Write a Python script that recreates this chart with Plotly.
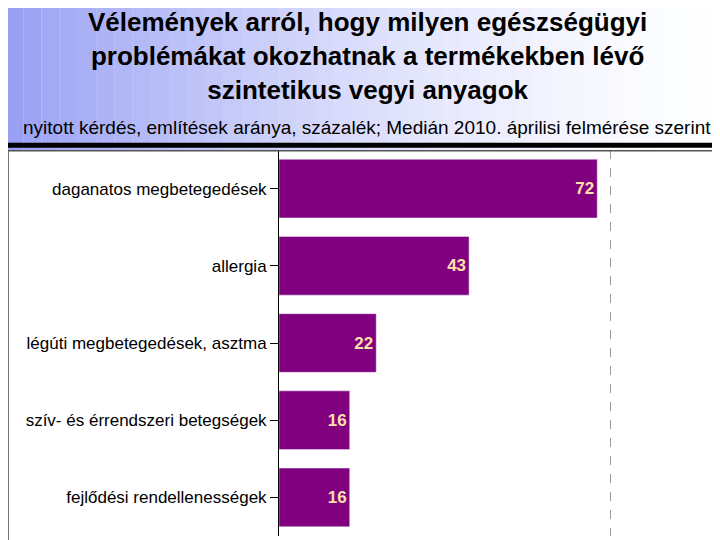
import plotly.graph_objects as go

categories = ["daganatos megbetegedések", "allergia", "légúti megbetegedések, asztma",
              "szív- és érrendszeri betegségek", "fejlődési rendellenességek"]
values = [72, 43, 22, 16, 16]

fig = go.Figure(go.Bar(
    x=values, y=categories, orientation="h",
    marker=dict(color="#800080"), width=0.76,
    text=values, textposition="inside", insidetextanchor="end",
    textfont=dict(color="#FFE0A8", size=17, family="Liberation Sans"),
    texttemplate="<b>%{text}</b>",
))

# left-to-right lavender fade in the header area
shapes = []
n = 40
for i in range(n):
    shapes.append(dict(type="rect", xref="paper", yref="paper",
                       x0=-0.62 + i * 1.65 / n, x1=-0.62 + (i + 1) * 1.65 / n,
                       y0=1.0, y1=1.4, line=dict(width=0), layer="below",
                       fillcolor="rgba(120,130,240,%.3f)" % (0.75 * (1 - i / n) ** 1.6)))
shapes.append(dict(type="line", xref="paper", yref="paper", x0=-0.62, x1=1.03,
                   y0=1.012, y1=1.012, line=dict(color="black", width=5)))
shapes.append(dict(type="rect", xref="paper", yref="paper", x0=-0.613, x1=1.0,
                   y0=-0.015, y1=0.998, line=dict(color="#555", width=1.5)))
shapes.append(dict(type="line", xref="paper", yref="paper", x0=1.014, x1=1.014,
                   y0=-0.03, y1=1.012, line=dict(color="black", width=4)))

fig.update_layout(
    width=720, height=540, paper_bgcolor="white", plot_bgcolor="white",
    margin=dict(l=271, r=7, t=142, b=12),
    showlegend=False, shapes=shapes,
    font=dict(family="Liberation Sans", color="black"),
    xaxis=dict(range=[0, 100], tickvals=[75], showticklabels=False, showgrid=True,
               gridcolor="#999", griddash="dash", gridwidth=1, zeroline=False),
    yaxis=dict(autorange="reversed", tickfont=dict(size=17), ticks="outside",
               ticklen=8, tickcolor="black", showline=True, linecolor="black",
               linewidth=1),
    annotations=[
        dict(text="<b>Vélemények arról, hogy milyen egészségügyi<br>problémákat okozhatnak a termékekben lévő<br>szintetikus vegyi anyagok</b>",
             xref="paper", yref="paper", x=0.2, y=1.375, xanchor="center", yanchor="top",
             showarrow=False, font=dict(size=26), align="center"),
        dict(text="nyitott kérdés, említések aránya, százalék; Medián 2010. áprilisi felmérése szerint",
             xref="paper", yref="paper", x=0.2, y=1.09, xanchor="center", yanchor="top",
             showarrow=False, font=dict(size=19)),
    ],
)
fig.write_html("out.html")
